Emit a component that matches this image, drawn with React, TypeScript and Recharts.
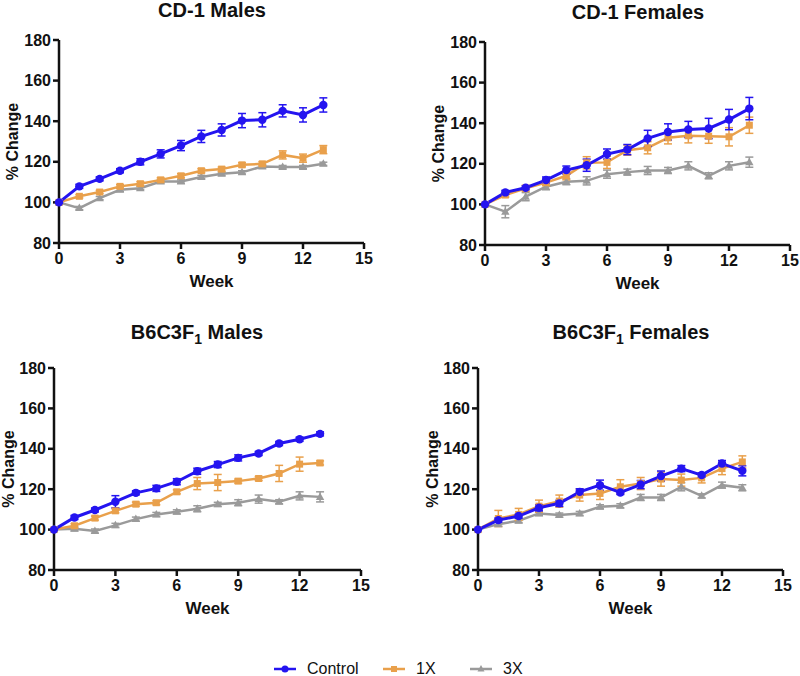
import React from 'react'
import { LineChart, Line, XAxis, YAxis, ErrorBar } from 'recharts'

const WEEKS = [0, 1, 2, 3, 4, 5, 6, 7, 8, 9, 10, 11, 12, 13]
const X_TICKS = [0, 3, 6, 9, 12, 15]
const Y_TICKS = [80, 100, 120, 140, 160, 180]

// CD-1 males
const cd1mCtrl = [100, 107.9, 111.6, 115.6, 120, 123.9, 128, 132.5, 135.7, 140.3, 140.7, 145.1, 143.1, 148]
const cd1mCtrlErr = [0, 1, 1, 1, 1.5, 2, 2.5, 3, 3, 3.5, 3.5, 3, 3.5, 3.5]
const cd1m1x = [100, 103, 105.1, 107.9, 109.2, 111.1, 113.1, 115.6, 116.4, 118.5, 119, 123.4, 121.8, 126]
const cd1m1xErr = [0, 0.8, 0.8, 0.8, 1, 1, 1, 1, 1, 1, 1, 2, 2, 2]
const cd1m3x = [100, 97.2, 102.1, 106.2, 107, 110.3, 110.3, 112.5, 114.1, 114.8, 117.7, 117.4, 117.4, 119]
const cd1m3xErr = [0, 0.8, 0.8, 0.8, 0.8, 0.8, 0.8, 0.8, 0.8, 0.8, 0.8, 0.8, 0.8, 0.8]

// CD-1 females
const cd1fCtrl = [100, 105.9, 108.2, 112, 116.9, 119.3, 124.8, 127, 132.5, 135.7, 136.9, 137.4, 141.8, 147.2]
const cd1fCtrlErr = [0, 1, 1, 1.5, 2, 3, 2.5, 2.5, 4, 4, 4, 5, 5, 5.5]
const cd1f1x = [100, 104.6, 107.9, 110.7, 114.1, 120.5, 120.7, 126.7, 127.9, 132.8, 133.8, 133.6, 133.3, 139]
const cd1f1xErr = [0, 1, 1.5, 1.5, 2, 3, 3, 2.5, 3, 3, 3.5, 3.5, 4.5, 4]
const cd1f3x = [100, 96.4, 103.8, 108.7, 111.2, 111.6, 114.9, 115.9, 116.7, 116.7, 119, 114.1, 119, 120.8]
const cd1f3xErr = [0, 3, 2, 1.5, 1.5, 2, 2, 1.5, 2, 1.5, 2, 1.5, 2, 2.5]

// B6C3F1 males
const b6mCtrl = [100, 106, 109.7, 113.8, 118.2, 120.4, 123.7, 128.9, 132.2, 135.5, 137.7, 142.6, 144.7, 147.4]
const b6mCtrlErr = [0, 1, 1, 3, 1, 1.5, 1.5, 1.5, 1.5, 1.5, 1, 1, 1, 1]
const b6m1x = [100, 101.9, 105.7, 109.3, 112.6, 113.3, 118.7, 122.8, 123.3, 124, 125.3, 127.8, 132.4, 133]
const b6m1xErr = [0, 1, 1, 1, 1, 1, 1, 3, 4, 1, 1, 4, 3.5, 1]
const b6m3x = [100, 100.4, 99.3, 102.1, 105.2, 107.5, 108.8, 110.3, 112.5, 113.3, 115.1, 113.8, 116.7, 116.2]
const b6m3xErr = [0, 1, 1, 1, 1, 1, 1, 1.5, 1, 1.5, 2, 1, 2, 2.5]

// B6C3F1 females
const b6fCtrl = [100, 104.7, 106.7, 110.8, 113, 118.7, 122, 118.4, 122.3, 126.5, 130.2, 127, 132.7, 129.1]
const b6fCtrlErr = [0, 1, 1, 1.5, 1.5, 1.5, 2.5, 1, 2, 2.5, 1.5, 1, 1.5, 2.5]
const b6f1x = [100, 105.5, 107.5, 111.6, 114.1, 117.1, 117.9, 121.2, 122.8, 125, 124.5, 125.6, 130.2, 133.5]
const b6f1xErr = [0, 4, 3, 3, 3, 3, 3, 3.5, 3, 3.5, 3, 2.5, 3, 3]
const b6f3x = [100, 102.7, 104.4, 108, 107.2, 108, 111.3, 111.8, 115.9, 115.9, 121.2, 116.7, 122, 120.7]
const b6f3xErr = [0, 1, 1, 1, 1, 1, 1, 1, 1.5, 1.5, 2, 1, 1.5, 1.5]

const BLUE = '#2414f0'
const ORANGE = '#e9a04b'
const GREY = '#9a9a9a'
const FONT = '"Liberation Sans", Arial, sans-serif'

function buildRows(c: number[], ce: number[], a: number[], ae: number[], b: number[], be: number[]) {
  return WEEKS.map((w, i) => ({
    week: w,
    ctrl: c[i], ctrlErr: ce[i],
    x1: a[i], x1Err: ae[i],
    x3: b[i], x3Err: be[i],
  }))
}

const CircleDot = (p: any) => <circle key={p.key} cx={p.cx} cy={p.cy} r={4.2} fill={BLUE} />
const SquareDot = (p: any) => <rect key={p.key} x={p.cx - 3.5} y={p.cy - 3.5} width={7} height={7} fill={ORANGE} />
const TriDot = (p: any) => (
  <polygon key={p.key} points={`${p.cx},${p.cy - 4.5} ${p.cx - 4.2},${p.cy + 3} ${p.cx + 4.2},${p.cy + 3}`} fill={GREY} />
)

interface PanelProps {
  title: React.ReactNode
  titleX: number
  titleY: number
  plotX: number
  plotY: number
  plotW: number
  plotH: number
  labelX: number
  rows: ReturnType<typeof buildRows>
}

function Panel({ title, titleX, titleY, plotX, plotY, plotW, plotH, labelX, rows }: PanelProps) {
  const left = plotX - 54
  const top = plotY - 10
  const right = Math.min(20, 800 - (plotX + plotW))
  const width = 54 + plotW + right
  const height = 10 + plotH + 50
  const tick = { fontSize: 16, fontWeight: 700, fill: '#111', fontFamily: FONT }
  return (
    <>
      <div style={{
        position: 'absolute', left: titleX, top: titleY, transform: 'translate(-50%, -50%)',
        fontFamily: FONT, fontWeight: 700, fontSize: 20, whiteSpace: 'nowrap', color: '#111',
      }}>{title}</div>
      <div style={{ position: 'absolute', left, top }}>
        <LineChart width={width} height={height} data={rows}
          margin={{ top: 10, right, left: 0, bottom: 0 }}>
          <XAxis dataKey="week" type="number" domain={[0, 15]} ticks={X_TICKS} interval={0}
            height={50} tick={tick} tickSize={6} tickMargin={4}
            axisLine={{ stroke: '#111', strokeWidth: 2.5 }} tickLine={{ stroke: '#111', strokeWidth: 2.5 }}
            label={{ value: 'Week', position: 'insideBottom', offset: 6,
              style: { fontSize: 17, fontWeight: 700, fill: '#111', fontFamily: FONT } }} />
          <YAxis type="number" domain={[80, 180]} ticks={Y_TICKS} interval={0} width={54}
            tick={tick} tickSize={6} tickMargin={2}
            axisLine={{ stroke: '#111', strokeWidth: 2.5 }} tickLine={{ stroke: '#111', strokeWidth: 2.5 }}
            label={{ value: '% Change', angle: -90, position: 'insideLeft', offset: labelX - left,
              style: { textAnchor: 'middle', fontSize: 16, fontWeight: 700, fill: '#111', fontFamily: FONT } }} />
          <Line dataKey="x3" stroke={GREY} strokeWidth={2.5} dot={TriDot} isAnimationActive={false}>
            <ErrorBar dataKey="x3Err" direction="y" width={4} stroke={GREY} strokeWidth={1.5} />
          </Line>
          <Line dataKey="x1" stroke={ORANGE} strokeWidth={2.5} dot={SquareDot} isAnimationActive={false}>
            <ErrorBar dataKey="x1Err" direction="y" width={4} stroke={ORANGE} strokeWidth={1.5} />
          </Line>
          <Line dataKey="ctrl" stroke={BLUE} strokeWidth={3} dot={CircleDot} isAnimationActive={false}>
            <ErrorBar dataKey="ctrlErr" direction="y" width={4} stroke={BLUE} strokeWidth={1.5} />
          </Line>
        </LineChart>
      </div>
    </>
  )
}

function LegendItem({ x, color, label, shape }: { x: number; color: string; label: string; shape: 'c' | 's' | 't' }) {
  return (
    <div style={{ position: 'absolute', left: x, top: 659, display: 'flex', alignItems: 'center', height: 20 }}>
      <svg width={22} height={20}>
        <line x1={0} y1={10} x2={22} y2={10} stroke={color} strokeWidth={2.5} />
        {shape === 'c' && <circle cx={11} cy={10} r={3.5} fill={color} />}
        {shape === 's' && <rect x={8} y={7} width={6} height={6} fill={color} />}
        {shape === 't' && <polygon points="11,6 7.5,12.5 14.5,12.5" fill={color} />}
      </svg>
      <span style={{ marginLeft: 11, fontFamily: FONT, fontSize: 16, color: '#111' }}>{label}</span>
    </div>
  )
}

export default function App() {
  return (
    <div style={{ position: 'absolute', left: 0, top: 0, width: 800, height: 676, background: '#fff', overflow: 'hidden' }}>
      <Panel title="CD-1 Males" titleX={212} titleY={10} plotX={59} plotY={40} plotW={305} plotH={203} labelX={12}
        rows={buildRows(cd1mCtrl, cd1mCtrlErr, cd1m1x, cd1m1xErr, cd1m3x, cd1m3xErr)} />
      <Panel title="CD-1 Females" titleX={638} titleY={12} plotX={485} plotY={42} plotW={305} plotH={203} labelX={438}
        rows={buildRows(cd1fCtrl, cd1fCtrlErr, cd1f1x, cd1f1xErr, cd1f3x, cd1f3xErr)} />
      <Panel title={<>B6C3F<sub style={{ fontSize: 14 }}>1</sub> Males</>} titleX={197} titleY={334}
        plotX={54} plotY={368} plotW={307} plotH={202} labelX={8}
        rows={buildRows(b6mCtrl, b6mCtrlErr, b6m1x, b6m1xErr, b6m3x, b6m3xErr)} />
      <Panel title={<>B6C3F<sub style={{ fontSize: 14 }}>1</sub> Females</>} titleX={631} titleY={334}
        plotX={478} plotY={368} plotW={305} plotH={202} labelX={432}
        rows={buildRows(b6fCtrl, b6fCtrlErr, b6f1x, b6f1xErr, b6f3x, b6f3xErr)} />
      <LegendItem x={274} color={BLUE} label="Control" shape="c" />
      <LegendItem x={383} color={ORANGE} label="1X" shape="s" />
      <LegendItem x={470} color={GREY} label="3X" shape="t" />
    </div>
  )
}
